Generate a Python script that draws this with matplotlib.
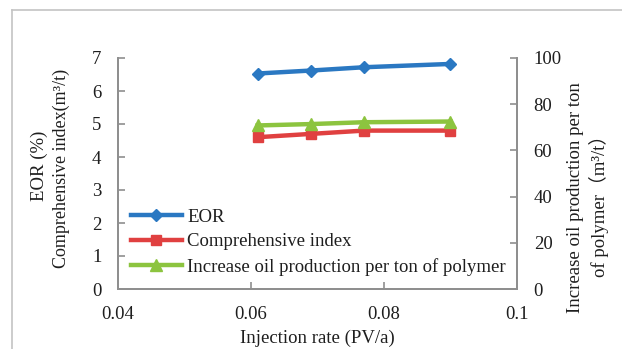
import matplotlib
matplotlib.use("Agg")
import matplotlib.pyplot as plt
from matplotlib.lines import Line2D

plt.rcParams['font.family'] = ['Liberation Serif', 'Noto Sans CJK SC', 'DejaVu Sans']

# Data
injection_rate = [0.061, 0.069, 0.077, 0.090]
eor = [6.53, 6.62, 6.72, 6.82]
comprehensive_index = [4.60, 4.70, 4.80, 4.80]
oil_per_ton_polymer = [70.8, 71.4, 72.2, 72.5]

x_ticks = [0.04, 0.06, 0.08, 0.1]
x_tick_labels = ['0.04', '0.06', '0.08', '0.1']
left_ticks = [0, 1, 2, 3, 4, 5, 6, 7]
right_ticks = [0, 20, 40, 60, 80, 100]

series_names = ['EOR', 'Comprehensive index', 'Increase oil production per ton of polymer']

W, H = 622, 349
fig = plt.figure(figsize=(W / 100, H / 100), dpi=100)

# light frame around the figure
fig.add_artist(Line2D([12 / W, 1.0], [1 - 10 / H, 1 - 10 / H], color='#c4c4c4', lw=1.2))
fig.add_artist(Line2D([12 / W, 12 / W], [0.0, 1 - 10 / H], color='#c4c4c4', lw=1.2))

left, right, bottom, top = 118, 517, 289, 58
ax = fig.add_axes([left / W, 1 - bottom / H, (right - left) / W, (bottom - top) / H])
ax2 = ax.twinx()

blue = '#2a78c2'
red = '#e04040'
green = '#8cc43f'
spine_c = '#8f8f8f'
txt_c = '#1e1e1e'
fs = 13.5

l1, = ax.plot(injection_rate, eor, color=blue, lw=3.2, marker='D', ms=6.5, label=series_names[0])
l2, = ax.plot(injection_rate, comprehensive_index, color=red, lw=3.2, marker='s', ms=7.5, label=series_names[1])
l3, = ax2.plot(injection_rate, oil_per_ton_polymer, color=green, lw=3.2, marker='^', ms=8, label=series_names[2])

ax.set_xlim(0.04, 0.1)
ax.set_ylim(0, 7)
ax2.set_ylim(0, 100)
ax.set_xticks(x_ticks)
ax.set_xticklabels(x_tick_labels)
ax.set_yticks(left_ticks)
ax2.set_yticks(right_ticks)

for a in (ax, ax2):
    a.spines['top'].set_visible(False)
    for s in ('left', 'right', 'bottom'):
        a.spines[s].set_color(spine_c)
        a.spines[s].set_linewidth(1.3)
    a.tick_params(direction='in', length=5, width=1.2, color=spine_c, labelsize=fs, labelcolor=txt_c)
ax.tick_params(axis='x', pad=12)
ax.tick_params(axis='y', pad=12)
ax2.tick_params(axis='y', pad=12)

ax.set_xlabel('Injection rate (PV/a)', fontsize=fs, labelpad=5, color=txt_c)

fig.text(39 / W, 1 - 166 / H, 'EOR (%)', rotation=90, ha='center', va='center', fontsize=fs, color=txt_c)
fig.text(61 / W, 1 - 168 / H, 'Comprehensive index(m³/t)', rotation=90, ha='center', va='center',
         fontsize=13, color=txt_c)
fig.text(576 / W, 1 - 198 / H, 'Increase oil production per ton', rotation=90, ha='center', va='center',
         fontsize=fs, color=txt_c)
fig.text(599 / W, 1 - 201 / H, 'of polymer（m³/t）', rotation=90, ha='center', va='center',
         fontsize=fs, color=txt_c)

leg = ax.legend(handles=[l1, l2, l3], loc='lower left', bbox_to_anchor=(0.0, 0.0), frameon=False,
                fontsize=fs, handlelength=2.7, handletextpad=0.3, labelspacing=0.4,
                borderaxespad=0.3, borderpad=0.4)
for t in leg.get_texts():
    t.set_color(txt_c)

fig.savefig('out.png', dpi=100)
